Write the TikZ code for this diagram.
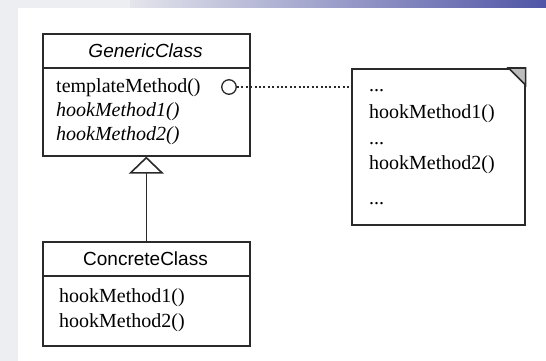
\documentclass[tikz,border=0pt]{standalone}
\usepackage{fontspec}
\setmainfont{Liberation Serif}
\newfontfamily\classfont{Liberation Sans}
\usetikzlibrary{arrows.meta}
\definecolor{linegray}{HTML}{2A2A2A}
\definecolor{edgegray}{HTML}{EDEEF2}
\definecolor{bandgray}{HTML}{E4E5EC}
\definecolor{bandblue}{HTML}{5055A6}
\definecolor{cornergray}{HTML}{BDBDBD}
\begin{document}
\begin{tikzpicture}[x=1pt,y=-1pt,
  box/.style={draw=linegray, line width=1.6pt, fill=white, inner sep=0pt, anchor=north west},
  rule/.style={draw=linegray, line width=1.6pt},
  classname/.style={font=\classfont\fontsize{19}{19}\selectfont, inner sep=0pt, text=black},
  op/.style={font=\fontsize{20}{20}\selectfont, anchor=west, inner sep=0pt, text=black},
  link/.style={draw=linegray, line width=1.3pt, dash pattern=on 2pt off 2.4pt}]
\useasboundingbox (0,0) rectangle (546,361);
% page background with grey margin and shaded top band
\fill[white] (0,0) rectangle (546,361);
\fill[edgegray] (0,0) rectangle (18,361);
\fill[edgegray] (0,0) rectangle (130,8);
\shade[left color=bandgray, right color=bandblue] (130,0) rectangle (546,8);

% abstract class
\node[box, minimum width=207pt, minimum height=122pt] (generic) at (42,33) {};
\draw[rule] (generic.west |- 0,68) -- (generic.east |- 0,68);
\node[classname] (gname) at (145.5,51) {\itshape GenericClass};
\node[op] (tm) at (56,88) {templateMethod()};
\node[op] (gh1) at (56,112) {\itshape hookMethod1()};
\node[op] (gh2) at (56,136) {\itshape hookMethod2()};
\node[circle, draw=linegray, line width=1.3pt, fill=white, minimum size=14.5pt, inner sep=0pt] (hook) at (229,87) {};

% concrete subclass
\node[box, minimum width=207pt, minimum height=104pt] (concrete) at (42,241) {};
\draw[rule] (concrete.west |- 0,276) -- (concrete.east |- 0,276);
\node[classname] (cname) at (145.5,259) {ConcreteClass};
\node[op] (ch1) at (59,298) {hookMethod1()};
\node[op] (ch2) at (59,323) {hookMethod2()};

% note with folded corner
\node[box, minimum width=173pt, minimum height=156pt] (note) at (351,68) {};
\draw[rule, fill=cornergray, line join=miter]
  ([xshift=-17pt]note.north east) -- (note.north east) -- ([yshift=-17pt]note.north east) -- cycle;
\node[op] (n1) at (369,91) {...};
\node[op] (n2) at (369,114) {hookMethod1()};
\node[op] (n3) at (369,144) {...};
\node[op] (n4) at (369,165) {hookMethod2()};
\node[op] (n5) at (369,204) {...};

% connectors
\draw[link] (hook.east) -- (hook.east -| note.west);
\draw[rule, -{Triangle[open, length=17pt, width=35pt, fill=white]}] (concrete.north) -- (generic.south);
\end{tikzpicture}
\end{document}
